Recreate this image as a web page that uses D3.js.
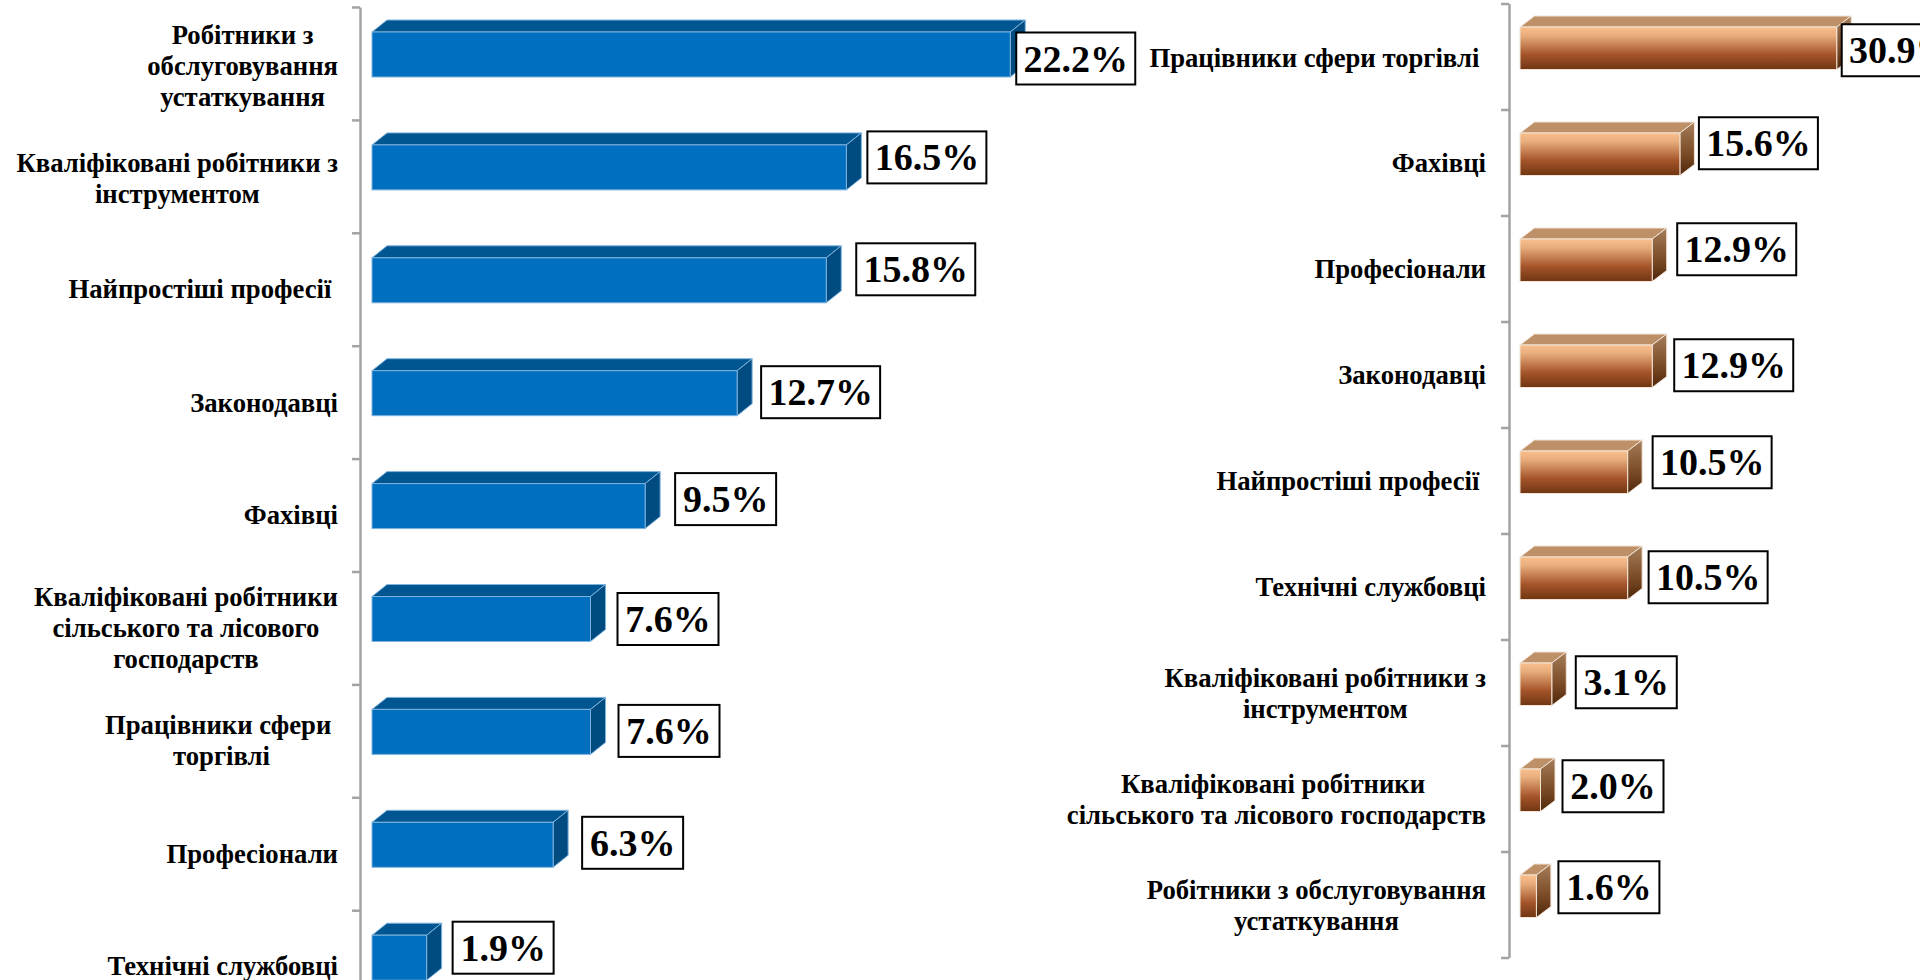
<!DOCTYPE html>
<html><head><meta charset="utf-8">
<script src="https://cdn.jsdelivr.net/npm/d3@7"></script>
<style>html,body{margin:0;padding:0;background:#fff;overflow:hidden}svg{display:block}
text{font-family:"Liberation Serif",serif;font-weight:bold;fill:#000}</style></head><body>
<div id="chart"></div>
<script>
const leftCategories=["Робітники з\nобслуговування\nустаткування","Кваліфіковані робітники з\nінструментом","Найпростіші професії ","Законодавці","Фахівці","Кваліфіковані робітники\nсільського та лісового\nгосподарств","Працівники сфери \nторгівлі","Професіонали","Технічні службовці"];
const leftValues=[22.2,16.5,15.8,12.7,9.5,7.6,7.6,6.3,1.9];
const rightCategories=["Працівники сфери торгівлі ","Фахівці","Професіонали","Законодавці","Найпростіші професії ","Технічні службовці","Кваліфіковані робітники з\nінструментом","Кваліфіковані робітники \nсільського та лісового господарств","Робітники з обслуговування\nустаткування"];
const rightValues=[30.9,15.6,12.9,12.9,10.5,10.5,3.1,2.0,1.6];
// hand placement of the value boxes and labels, relative to the default spot (px)
const leftNudgeX=[6,21,30,24,30,27,28,29,26];
const leftNudgeY=[4,-10,-11,-1,-7,0,-1,-2,-10];
const leftLabelNudge=[3,2,0,1,0,0,0,0,0];
const rightNudgeX=[5,19,25,22,25,21,24,22,22];
const rightNudgeY=[2,-11,-11,-1,-10,-1,-2,-4,-9];
const rightLabelNudge=[2,1,1,1,1,1,1,1,1];

const W=1920,H=980;
const svg=d3.select("#chart").append("svg").attr("width",W).attr("height",H);
const defs=svg.append("defs");
function grad(id,stops){const g=defs.append("linearGradient").attr("id",id).attr("x1",0).attr("x2",0).attr("y1",0).attr("y2",1);
 stops.forEach(s=>g.append("stop").attr("offset",s[0]).attr("stop-color",s[1]));}
grad("copperFront",[[0,"#f9bf8c"],[.2,"#e8ad7b"],[.65,"#a5542a"],[1,"#6f3612"]]);
grad("copperSide",[[0,"#a57d5a"],[.6,"#7a4a26"],[1,"#4e2609"]]);

function panel(o){
 const g=svg.append("g");
 const axisY=d3.scaleLinear().domain([0,o.cats.length]).range([o.y0,o.y0+o.step*o.cats.length]);
 const axis=d3.axisLeft(axisY).tickValues(d3.range(0,o.cats.length+1)).tickFormat("").tickSize(8).tickSizeOuter(0);
 const ag=g.append("g").attr("transform",`translate(${o.axisX},0)`).call(axis);
 ag.selectAll("path,line").attr("stroke","#a3a3a3").attr("stroke-width",o.axisW);
 const x=d3.scaleLinear().domain([0,1]).range([o.x0,o.x0+o.perUnit]);
 const rows=o.vals.map((v,i)=>({v,i,cat:o.cats[i]}));
 const bar=g.selectAll("g.bar").data(rows).join("g").attr("class","bar");
 const top=d=>axisY(d.i)+o.frontOff, bot=d=>top(d)+o.barH, xe=d=>x(d.v);
 bar.append("path").attr("fill",o.topFill).attr("stroke",o.edge).attr("stroke-width",1)
  .attr("d",d=>`M${o.x0},${top(d)}L${o.x0+o.dx},${top(d)-o.dy}L${xe(d)+o.dx},${top(d)-o.dy}L${xe(d)},${top(d)}Z`);
 bar.append("path").attr("fill",o.sideFill).attr("stroke",o.edge).attr("stroke-width",1)
  .attr("d",d=>`M${xe(d)},${top(d)}L${xe(d)+o.dx},${top(d)-o.dy}L${xe(d)+o.dx},${bot(d)-o.dy}L${xe(d)},${bot(d)}Z`);
 bar.append("rect").attr("x",o.x0).attr("y",top).attr("width",d=>xe(d)-o.x0).attr("height",o.barH).attr("fill",o.frontFill).attr("stroke",o.edge).attr("stroke-width",1);
 // category labels
 const lab=g.selectAll("text.cat").data(rows).join("text").attr("class","cat").style("font-size",o.catSize+"px").style("white-space","pre");
 lab.each(function(d){
  const lines=d.cat.split("\n"), t=d3.select(this);
  const ts=lines.map((s,j)=>t.append("tspan").text(s));
  const w=Math.max(...ts.map(s=>s.node().getComputedTextLength()));
  const cx=o.labelRight-w/2, cy=axisY(d.i)+o.step*o.labelOff+o.ln[d.i];
  ts.forEach((s,j)=>s.attr("text-anchor","middle").attr("x",cx).attr("y",cy+(j-(lines.length-1)/2)*o.lineH+o.catSize*.33));
 });
 // value boxes
 const box=g.selectAll("g.val").data(rows).join("g").attr("class","val")
  .attr("transform",d=>`translate(${xe(d)+o.nx[d.i]},${top(d)+o.barH/2+o.ny[d.i]})`);
 box.append("rect").attr("x",0).attr("y",-o.boxH/2).attr("width",d=>(d.v>=10?119:101)).attr("height",o.boxH).attr("fill","#fff").attr("stroke","#000").attr("stroke-width",2);
 box.append("text").attr("x",d=>(d.v>=10?119:101)/2).attr("y",13).attr("text-anchor","middle").style("font-size",o.valSize+"px").text(d=>d.v.toFixed(1)+"%");
}
panel({cats:leftCategories,vals:leftValues,nx:leftNudgeX,ny:leftNudgeY,ln:leftLabelNudge,y0:7,step:112.9,frontOff:25,barH:45,axisX:360,axisW:2.5,x0:372,perUnit:28.75,dx:15,dy:12,
 topFill:"#005691",sideFill:"#004c80",frontFill:"#006fc0",edge:"#7fb2dd",catSize:26.7,lineH:31,labelRight:338,labelOff:.5,valSize:38,boxH:52});
panel({cats:rightCategories,vals:rightValues,nx:rightNudgeX,ny:rightNudgeY,ln:rightLabelNudge,y0:3.5,step:106,frontOff:23.5,barH:42.5,axisX:1509,axisW:2.5,x0:1520,perUnit:10.25,dx:14.5,dy:11,
 topFill:"#bd9068",sideFill:"url(#copperSide)",frontFill:"url(#copperFront)",edge:"#f2e3d6",catSize:26.7,lineH:31,labelRight:1486,labelOff:.5,valSize:38,boxH:52});
</script></body></html>
